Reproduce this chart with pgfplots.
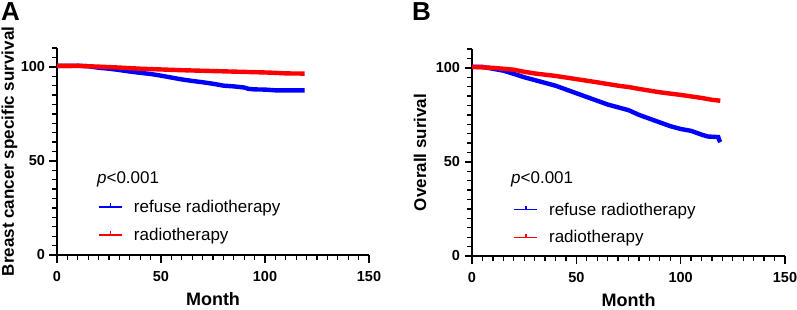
\documentclass[border=0pt]{standalone}
\usepackage{fontspec}
\setmainfont{Liberation Sans}
\usepackage{pgfplots}
\pgfplotsset{compat=1.18}
\definecolor{kmblue}{RGB}{0,0,255}
\definecolor{kmred}{RGB}{255,0,0}
\pgfplotsset{
  kmaxis/.style={
    scale only axis,
    width=312bp, height=207bp,
    xmin=0, xmax=150, ymin=0, ymax=110,
    axis x line*=bottom, axis y line*=left,
    axis line style={line width=1.8bp,-},
    xtick={0,50,100,150}, ytick={0,50,100},
    minor xtick={5,10,...,145}, minor ytick={5,10,...,110},
    tick align=outside,
    major tick length=7.5bp, minor tick length=5bp,
    every tick/.style={black,line width=1.5bp},
    every minor tick/.style={black,line width=1.3bp},
    /pgf/number format/assume math mode=true,
    ticklabel style={font=\fontsize{14.5bp}{16bp}\selectfont\bfseries},
    xticklabel style={yshift=-5bp},
    yticklabel style={xshift=-1bp},
    xlabel={Month},
    label style={font=\fontsize{17bp}{19bp}\selectfont\bfseries},
    xlabel style={at={(axis description cs:0.5,-0.245)},anchor=base,inner sep=0pt,font=\fontsize{18bp}{20bp}\selectfont\bfseries},
    legend cell align=left,
    legend style={draw=none, fill=none, inner sep=0pt,
      font=\fontsize{17bp}{19bp}\selectfont, row sep=10bp,
      nodes={inner sep=2pt}},
    /tikz/every odd column/.append style={column sep=9bp},
    legend image code/.code={
      \draw[line width=1.6bp] (0bp,0bp) -- (23bp,0bp);
      \draw[line width=1.6bp] (11.5bp,0bp) -- (11.5bp,3.5bp);
    },
    clip=false,
  },
  kmline/.style={line width=4.4bp, no markers},
}
\begin{document}
\begin{tikzpicture}
\path[use as bounding box] (0,0) rectangle (797bp,310bp);
\node[anchor=north west, inner sep=0pt, font=\fontsize{26bp}{28bp}\selectfont\bfseries] at (1bp,308bp) {A};
\node[anchor=north west, inner sep=0pt, font=\fontsize{26bp}{28bp}\selectfont\bfseries] at (412bp,308bp) {B};
\begin{axis}[kmaxis, at={(57bp,55bp)}, anchor=south west,
  ylabel={Breast cancer specific survival},
  ylabel style={at={(axis description cs:-0.152,0.5)},anchor=center},
  legend style={at={(axis description cs:0.132,0.276)}, anchor=north west}]
\addplot[kmline, kmblue] coordinates {
(0,100.5) (5,100.5) (10,100.6) (15,100.3) (20,99.5) (25,99.0) (30,98.3) (35,97.5) (40,96.8) (45,96.2) (50,95.3) (55,94.3) (60,93.3) (65,92.5) (70,91.8) (75,91.0) (80,90.0) (85,89.6) (90,89.0) (92,88.3) (95,88.0) (100,87.9) (105,87.5) (110,87.5) (115,87.5) (119,87.5)};
\addlegendentry{refuse radiotherapy}
\addplot[kmline, kmred] coordinates {
(0,100.5) (10,100.5) (20,100.1) (30,99.6) (40,99.0) (50,98.6) (60,98.2) (70,97.9) (80,97.6) (90,97.3) (100,97.0) (105,96.8) (110,96.5) (119,96.4)};
\addlegendentry{radiotherapy}
\node[anchor=west, inner sep=0pt, font=\fontsize{17bp}{19bp}\selectfont] at (axis cs:19.2,40) {\textit{p}<0.001};
\end{axis}
\begin{axis}[kmaxis, at={(472bp,54bp)}, anchor=south west, width=313bp,
  ylabel={Overall surival},
  ylabel style={at={(axis description cs:-0.166,0.5)},anchor=center},
  legend style={at={(axis description cs:0.132,0.268)}, anchor=north west}]
\addplot[kmline, kmblue] coordinates {
(0,100.5) (5,100.5) (10,99.5) (15,98.5) (20,96.8) (25,95.0) (30,93.5) (35,92.0) (40,90.5) (45,88.5) (50,86.5) (55,84.5) (60,82.5) (65,80.5) (70,79.0) (75,77.5) (80,75.0) (85,73.0) (90,71.0) (95,69.0) (100,67.5) (105,66.5) (110,64.5) (113,63.5) (118,63.2) (118.5,61.5) (119,60.5)};
\addlegendentry{refuse radiotherapy}
\addplot[kmline, kmred] coordinates {
(0,100.5) (10,100.0) (20,99.0) (25,97.9) (30,97.0) (40,95.7) (50,94.0) (60,92.3) (70,90.5) (75,89.8) (80,88.8) (90,87.0) (100,85.6) (110,84.0) (115,83.0) (119,82.5)};
\addlegendentry{radiotherapy}
\node[anchor=west, inner sep=0pt, font=\fontsize{17bp}{19bp}\selectfont] at (axis cs:18.7,40.6) {\textit{p}<0.001};
\end{axis}
\end{tikzpicture}
\end{document}
